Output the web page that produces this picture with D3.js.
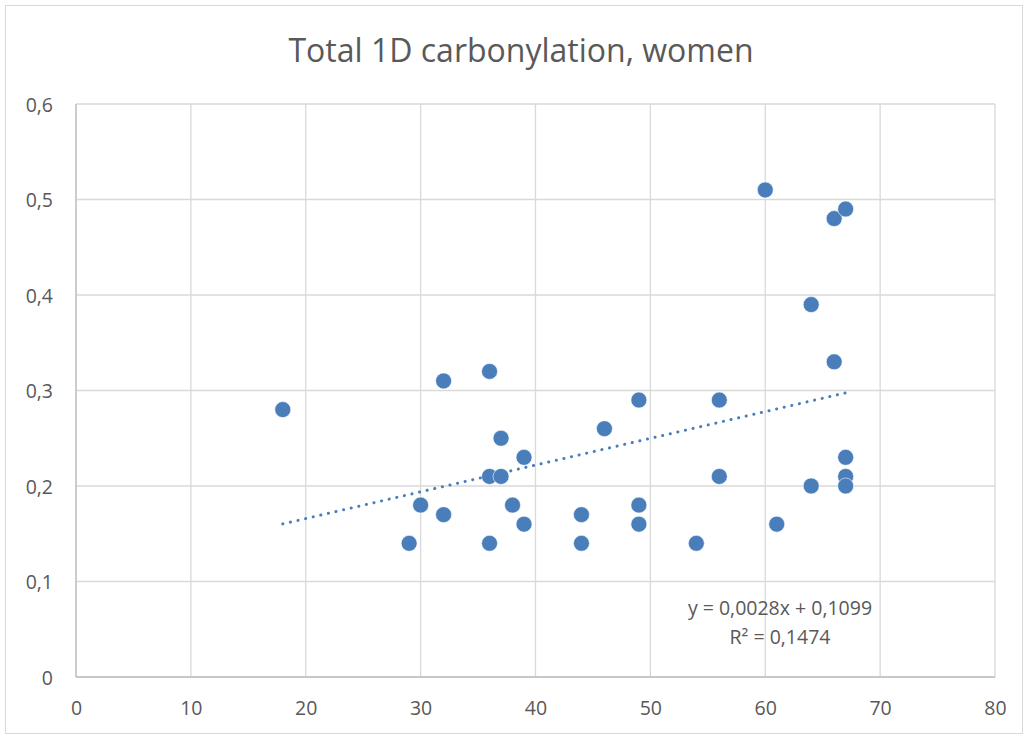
<!DOCTYPE html>
<html>
<head>
<meta charset="utf-8">
<script src="https://cdn.jsdelivr.net/npm/d3@7"></script>
<style>
  body { margin: 0; background: #fff; }
  text { font-family: "Open Sans", "Liberation Sans", sans-serif; fill: #595959; }
</style>
</head>
<body>
<div id="chart"></div>
<script>
// data
var ages = [18, 29, 30, 32, 32, 36, 36, 36, 37, 37, 38, 39, 39, 44, 44, 46,
            49, 49, 49, 54, 56, 56, 60, 61, 64, 64, 66, 66, 67, 67, 67, 67];
var carbonyl = [0.28, 0.14, 0.18, 0.31, 0.17, 0.32, 0.21, 0.14, 0.25, 0.21, 0.18, 0.23, 0.16, 0.17, 0.14, 0.26,
                0.29, 0.18, 0.16, 0.14, 0.29, 0.21, 0.51, 0.16, 0.39, 0.20, 0.48, 0.33, 0.49, 0.23, 0.21, 0.20];
var xTicks = [0, 10, 20, 30, 40, 50, 60, 70, 80];
var yTicks = [0, 0.1, 0.2, 0.3, 0.4, 0.5, 0.6];
var slope = 0.0028, intercept = 0.1099;
var eqLines = ["y = 0,0028x + 0,1099", "R² = 0,1474"];

var W = 1028, H = 738;
var m = {top: 104, right: 33, bottom: 61, left: 76};
var fs = 19.5;

var svg = d3.select("#chart").append("svg")
    .attr("width", W)
    .attr("height", H);

// outer chart border
svg.append("rect")
   .attr("x", 5.5).attr("y", 5.5)
   .attr("width", W - 11).attr("height", H - 10)
   .attr("fill", "#fff")
   .attr("stroke", "#d9d9d9")
   .attr("stroke-width", 1);

var x = d3.scaleLinear().domain([0, 80]).range([m.left, W - m.right]);
var y = d3.scaleLinear().domain([0, 0.6]).range([H - m.bottom, m.top]);

// gridlines
svg.append("g").selectAll("line")
   .data(xTicks)
   .join("line")
   .attr("x1", d => x(d)).attr("x2", d => x(d))
   .attr("y1", y(0)).attr("y2", y(0.6))
   .attr("stroke", "#d9d9d9").attr("stroke-width", 1.3);

svg.append("g").selectAll("line")
   .data(yTicks)
   .join("line")
   .attr("x1", x(0)).attr("x2", x(80))
   .attr("y1", d => y(d)).attr("y2", d => y(d))
   .attr("stroke", "#d9d9d9").attr("stroke-width", 1.3);

// axes (labels only, Excel style)
var fmt = d => d3.format(".1f")(d).replace(".", ",").replace(/^0,0$/, "0");

var xAxis = svg.append("g")
   .attr("transform", "translate(0," + y(0) + ")")
   .call(d3.axisBottom(x).tickValues(xTicks).tickSize(0).tickPadding(24).tickFormat(d3.format("d")));
var yAxis = svg.append("g")
   .attr("transform", "translate(" + x(0) + ",0)")
   .call(d3.axisLeft(y).tickValues(yTicks).tickSize(0).tickPadding(23).tickFormat(fmt));

[xAxis, yAxis].forEach(a => {
  a.select(".domain").remove();
  a.selectAll("text")
   .style("font-size", fs + "px")
   .style("font-family", "'Open Sans', 'Liberation Sans', sans-serif")
   .attr("fill", "#595959");
});
yAxis.selectAll("text").attr("dy", "0.36em");

// axis lines at 0, a little darker
svg.append("line")
   .attr("x1", x(0)).attr("x2", x(80))
   .attr("y1", y(0)).attr("y2", y(0))
   .attr("stroke", "#bfbfbf").attr("stroke-width", 1.3);
svg.append("line")
   .attr("x1", x(0)).attr("x2", x(0))
   .attr("y1", y(0)).attr("y2", y(0.6))
   .attr("stroke", "#bfbfbf").attr("stroke-width", 1.3);

// points
svg.append("g").selectAll("circle")
   .data(ages.map((a, i) => [a, carbonyl[i]]))
   .join("circle")
   .attr("cx", d => x(d[0]))
   .attr("cy", d => y(d[1]))
   .attr("r", 8)
   .attr("fill", "#4a7ebb")
   .attr("stroke", "#fff")
   .attr("stroke-width", 0.6);

// linear trendline
var xMin = d3.min(ages), xMax = d3.max(ages);
svg.append("line")
   .attr("x1", x(xMin)).attr("y1", y(slope * xMin + intercept))
   .attr("x2", x(xMax)).attr("y2", y(slope * xMax + intercept))
   .attr("stroke", "#4a7ebb")
   .attr("stroke-width", 3)
   .attr("stroke-linecap", "round")
   .attr("stroke-dasharray", "0.1 7.7");

// equation label
svg.append("g").selectAll("text")
   .data(eqLines)
   .join("text")
   .attr("x", 780)
   .attr("y", (d, i) => 615 + i * 29)
   .attr("text-anchor", "middle")
   .style("font-size", fs + "px")
   .text(d => d);

// title
svg.append("text")
   .attr("x", 521)
   .attr("y", 62)
   .attr("text-anchor", "middle")
   .style("font-size", "32px")
   .text("Total 1D carbonylation, women");
</script>
</body>
</html>
